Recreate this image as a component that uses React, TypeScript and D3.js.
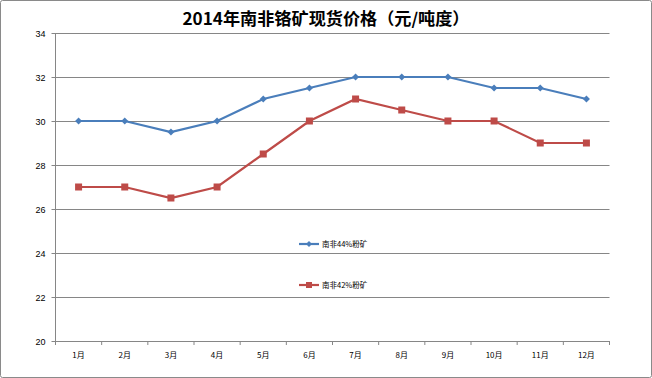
import React from "react";
import * as d3 from "d3";

const months = ["1月", "2月", "3月", "4月", "5月", "6月", "7月", "8月", "9月", "10月", "11月", "12月"];
const series44 = [30, 30, 29.5, 30, 31, 31.5, 32, 32, 32, 31.5, 31.5, 31];
const series42 = [27, 27, 26.5, 27, 28.5, 30, 31, 30.5, 30, 30, 29, 29];
const yTicks = [20, 22, 24, 26, 28, 30, 32, 34];
const seriesNames = ["南非44%粉矿", "南非42%粉矿"];
const colors = ["#4A7EBB", "#BE4B48"];

export default function App() {
  const W = 652, H = 378;
  const left = 55.5, right = 609.5, top = 33, bottom = 341;
  const x = d3.scaleBand<string>().domain(months).range([left, right]);
  const y = d3.scaleLinear().domain([20, 34]).range([bottom, top]);
  const line = d3.line<number>().x((_, i) => x(months[i])! + x.bandwidth() / 2).y((d) => y(d));
  const font = "'Liberation Sans', Arial, sans-serif";
  const tickFont = "'Noto Sans CJK SC', 'Liberation Sans', sans-serif";
  const data = [series44, series42];
  const legendY = [244, 285];
  return (
    <svg width={W} height={H} style={{ position: "absolute", left: 0, top: 0 }}>
      <rect x={0.5} y={0.5} width={W - 1} height={H - 1} fill="#fff" stroke="#8a8a8a" strokeWidth={1} rx={2} />
      <text x={326} y={25} textAnchor="middle" fontFamily="'Noto Sans CJK SC', sans-serif" fontWeight="bold" fontSize={16.5} fill="#000" textLength={287} lengthAdjust="spacingAndGlyphs">
        2014年南非铬矿现货价格（元/吨度）
      </text>
      {yTicks.map((t) => (
        <g key={t}>
          <line x1={left - 4} x2={right} y1={y(t) + 0.5} y2={y(t) + 0.5} stroke="#868686" strokeWidth={1} />
          <text x={left - 10} y={y(t) + 3.5} textAnchor="end" fontFamily={font} fontSize={9} fill="#000">
            {t}
          </text>
        </g>
      ))}
      <line x1={left} x2={left} y1={top} y2={bottom + 4} stroke="#868686" strokeWidth={1} />
      {months.map((m, i) => (
        <g key={m}>
          <line x1={x(m)! + x.bandwidth()} x2={x(m)! + x.bandwidth()} y1={bottom} y2={bottom + 4} stroke="#868686" />
          <text x={x(m)! + x.bandwidth() / 2} y={bottom + 17} textAnchor="middle" fontFamily={tickFont} fontSize={8} fill="#000">
            {m}
          </text>
        </g>
      ))}
      {data.map((s, k) => (
        <g key={k}>
          <path d={line(s)!} fill="none" stroke={colors[k]} strokeWidth={2.2} />
          {s.map((v, i) => {
            const cx = x(months[i])! + x.bandwidth() / 2;
            const cy = y(v);
            return k === 0 ? (
              <path key={i} d={`M${cx},${cy - 3.5}L${cx + 3.5},${cy}L${cx},${cy + 3.5}L${cx - 3.5},${cy}Z`} fill={colors[k]} />
            ) : (
              <rect key={i} x={cx - 3.5} y={cy - 3.5} width={7} height={7} fill={colors[k]} />
            );
          })}
        </g>
      ))}
      {seriesNames.map((n, k) => (
        <g key={n}>
          <line x1={299} x2={319} y1={legendY[k]} y2={legendY[k]} stroke={colors[k]} strokeWidth={2.2} />
          {k === 0 ? (
            <path d={`M309,${legendY[k] - 3}L312,${legendY[k]}L309,${legendY[k] + 3}L306,${legendY[k]}Z`} fill={colors[k]} />
          ) : (
            <rect x={306} y={legendY[k] - 3} width={6} height={6} fill={colors[k]} />
          )}
          <text x={322} y={legendY[k] + 3} fontFamily={tickFont} fontSize={7.5} fill="#000">
            {n}
          </text>
        </g>
      ))}
    </svg>
  );
}
